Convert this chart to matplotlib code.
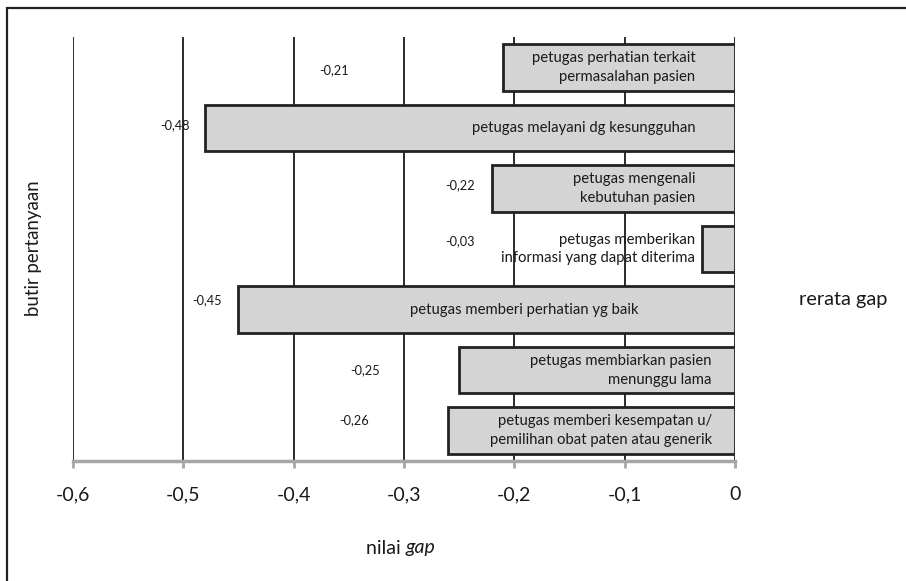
import matplotlib
matplotlib.use("Agg")
import matplotlib.pyplot as plt
from matplotlib.patches import Rectangle

# rerata gap per butir pertanyaan
items = [
    "petugas perhatian terkait\npermasalahan pasien",
    "petugas melayani dg kesungguhan",
    "petugas mengenali\nkebutuhan pasien",
    "petugas memberikan\ninformasi yang dapat diterima",
    "petugas memberi perhatian yg baik",
    "petugas membiarkan pasien\nmenunggu lama",
    "petugas memberi kesempatan u/\npemilihan obat paten atau generik",
]
gap = [-0.21, -0.48, -0.22, -0.03, -0.45, -0.25, -0.26]
xticks = [-0.6, -0.5, -0.4, -0.3, -0.2, -0.1, 0]
xtick_labels = ["-0,6", "-0,5", "-0,4", "-0,3", "-0,2", "-0,1", "0"]

# where the value labels and item texts sit
label_x = [-0.363, -0.508, -0.249, -0.249, -0.479, -0.335, -0.345]
label_dy = [0.04, -0.04, -0.05, -0.13, -0.16, 0.0, -0.18]
text_x = [-0.036, -0.036, -0.036, -0.036, -0.191, -0.021, -0.021]
text_ha = ["right", "right", "right", "right", "center", "right", "right"]

plt.rcParams["font.family"] = ["Lato", "DejaVu Sans"]
TXT = "#1a1a1a"

fig = plt.figure(figsize=(9.06, 5.81), dpi=100)
ax = fig.add_axes([73 / 906, 1 - 461 / 581, 662 / 906, 424 / 581])

pos = list(range(len(gap)))
ax.barh(pos, gap, height=0.77, color="#d4d4d4", edgecolor="#222222",
        linewidth=2.0, zorder=3)

for x in xticks:
    ax.axvline(x, color="#1a1a1a", lw=1.3, zorder=1)

for i, v in enumerate(gap):
    ax.text(label_x[i], i + label_dy[i], ("%.2f" % v).replace(".", ","),
            ha="center", va="center", fontsize=9.2, color=TXT, zorder=5)
    ax.text(text_x[i], i, items[i], ha=text_ha[i], va="center",
            multialignment="right", fontsize=10.7, color=TXT,
            linespacing=1.45, zorder=5)

ax.set_xlim(-0.6, 0)
ax.set_ylim(len(gap) - 0.5, -0.5)
ax.set_yticks([])
ax.set_xticks(xticks)
ax.set_xticklabels(xtick_labels, fontsize=14, color=TXT)
ax.tick_params(axis="x", length=5, width=2, color="#a6a6a6", pad=13)
for s in ["top", "right", "left"]:
    ax.spines[s].set_visible(False)
ax.spines["bottom"].set_color("#a6a6a6")
ax.spines["bottom"].set_linewidth(2.5)
ax.spines["bottom"].set_zorder(4)

fig.text(406 / 906, 1 - 548 / 581, "nilai ", ha="right", va="center",
         fontsize=14, color=TXT)
fig.text(406 / 906, 1 - 548 / 581, "gap", ha="left", va="center",
         fontsize=14, color=TXT, style="italic")
fig.text(33 / 906, 1 - 248 / 581, "butir pertanyaan", rotation=90,
         ha="center", va="center", fontsize=13.4, color=TXT)
fig.text(843 / 906, 1 - 300 / 581, "rerata gap", ha="center", va="center",
         fontsize=14.4, color=TXT)

# chart frame
fig.patches.append(Rectangle((7 / 906, -0.1), 1.1, 1 - 8 / 581 + 0.1,
                             transform=fig.transFigure, fill=False,
                             edgecolor="#222222", lw=1.6))

fig.savefig("out.png", dpi=100)
